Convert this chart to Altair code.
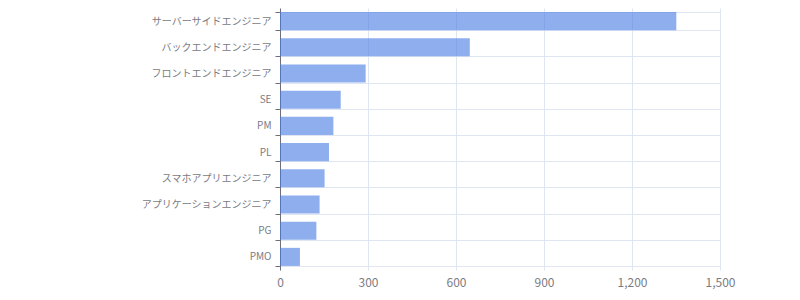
import altair as alt
import pandas as pd

categories = [
    "サーバーサイドエンジニア",
    "バックエンドエンジニア",
    "フロントエンドエンジニア",
    "SE",
    "PM",
    "PL",
    "スマホアプリエンジニア",
    "アプリケーションエンジニア",
    "PG",
    "PMO",
]
values = [1351, 647, 292, 207, 182, 167, 152, 135, 124, 68]
x_ticks = [0, 300, 600, 900, 1200, 1500]

df = pd.DataFrame({"job": categories, "count": values})

FONT = "Noto Sans CJK JP"
GRID = "#E0E6F1"
AXIS = "#6E7079"
LABEL = "#7A7B83"

chart = (
    alt.Chart(df)
    .mark_bar(color="#4478E1", fillOpacity=0.6)
    .encode(
        x=alt.X(
            "count:Q",
            scale=alt.Scale(domain=[0, 1500], nice=False),
            axis=alt.Axis(
                values=x_ticks,
                title=None,
                format=",d",
                domain=False,
                ticks=False,
                grid=True,
                gridColor=GRID,
                gridWidth=1,
                labelFont=FONT,
                labelFontSize=12,
                labelColor=LABEL,
                labelPadding=7,
                labelFlush=False,
            ),
        ),
        y=alt.Y(
            "job:N",
            sort=categories,
            scale=alt.Scale(paddingInner=0.31),
            axis=alt.Axis(
                title=None,
                domain=True,
                domainColor=AXIS,
                domainWidth=1,
                ticks=True,
                tickColor=AXIS,
                tickSize=5,
                tickBand="extent",
                grid=True,
                gridColor=GRID,
                gridWidth=1,
                labelFont=FONT,
                labelFontSize=10,
                labelColor=LABEL,
                labelPadding=4,
            ),
        ),
        tooltip=["job", "count"],
    )
    .properties(
        width=440,
        height=262,
        autosize="none",
        padding={"left": 280, "top": 8, "right": 80, "bottom": 30},
    )
    .configure_view(stroke=None)
)

chart.save("out.html", embed_options={"renderer": "svg", "actions": False})
